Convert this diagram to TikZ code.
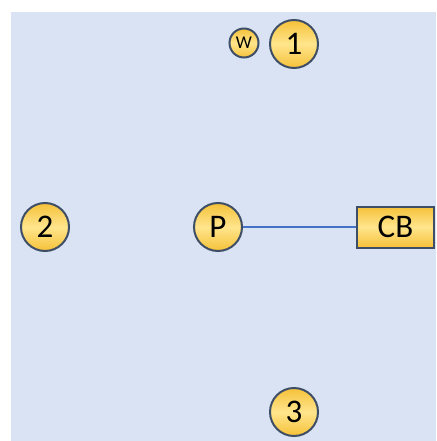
\documentclass[tikz,border=0pt]{standalone}
\usepackage{fontspec}
\setmainfont{Carlito}
\definecolor{bgblue}{HTML}{DAE3F3}
\definecolor{edgeblue}{HTML}{3E4E66}
\definecolor{lineblue}{HTML}{4472C4}
\definecolor{goldA}{HTML}{F5C139}
\definecolor{goldB}{HTML}{FFE58C}
\tikzset{
  numcirc/.style={circle, draw=edgeblue, line width=2pt, top color=goldA, bottom color=goldA, middle color=goldB,
    minimum size=48pt, inner sep=0pt, font=\fontsize{33}{33}\selectfont},
  smallcirc/.style={numcirc, minimum size=29pt, font=\fontsize{18}{18}\selectfont},
  cbbox/.style={rectangle, draw=edgeblue, line width=2pt, top color=goldA, bottom color=goldA, middle color=goldB,
    minimum width=77pt, minimum height=41pt, inner sep=0pt, font=\fontsize{33}{33}\selectfont},
  link/.style={draw=lineblue, line width=1.1pt}
}
\begin{document}
\begin{tikzpicture}[x=1pt,y=-1pt]
\useasboundingbox (0,0) rectangle (436,441);
\fill[bgblue] (11,12) rectangle (436,441);
\node[smallcirc] (w) at (244,43) {W};
\node[numcirc] (n1) at (294,44) {1};
\node[numcirc] (n2) at (45,227) {2};
\node[numcirc] (p) at (218,227) {P};
\node[cbbox] (cb) at (395.5,227) {CB};
\node[numcirc] (n3) at (294,412) {3};
\draw[link] (p) -- (cb);
\end{tikzpicture}
\end{document}
